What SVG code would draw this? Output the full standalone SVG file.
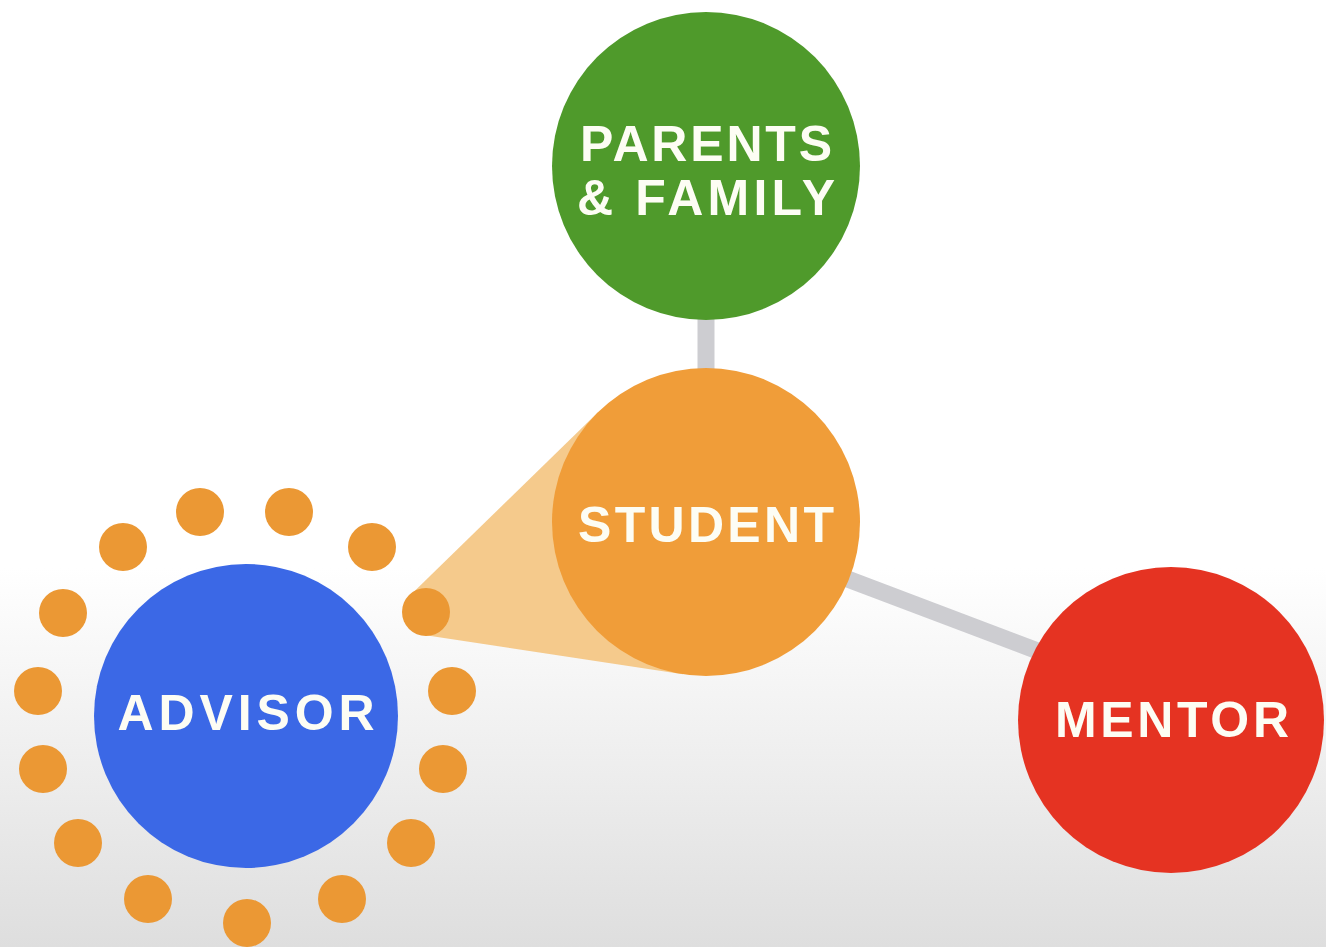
<svg xmlns="http://www.w3.org/2000/svg" width="1326" height="947" viewBox="0 0 1326 947">
  <defs>
    <linearGradient id="bg" x1="0" y1="0" x2="0" y2="1">
      <stop offset="0" stop-color="#ffffff"/>
      <stop offset="0.6" stop-color="#ffffff"/>
      <stop offset="1" stop-color="#dedede"/>
    </linearGradient>
    <style>
      .lbl { font-family: "Liberation Sans", Arial, sans-serif; font-weight: bold; font-size: 50px; fill: #fdfdf4; text-anchor: middle; }
      .conn { stroke: #cdcdd1; stroke-width: 17; fill: none; }
      .dot { fill: #eb9834; }
    </style>
  </defs>
  <rect x="0" y="0" width="1326" height="947" fill="url(#bg)"/>

  <g id="connectors">
    <line class="conn" x1="706" y1="300" x2="706" y2="390"/>
    <line class="conn" x1="800" y1="561" x2="1080" y2="667"/>
  </g>

  <g id="highlight">
    <polygon points="410,595.5 598.5,411.7 706,522 682.9,674.3 422.5,634.7" fill="#f5ca8c"/>
  </g>

  <g id="parents">
    <circle cx="706" cy="166" r="154" fill="#4f9a2b"/>
    <text class="lbl" x="706" y="161" textLength="252" lengthAdjust="spacing">PARENTS</text>
    <text class="lbl" x="706" y="215" textLength="258" lengthAdjust="spacing">&amp; FAMILY</text>
  </g>

  <g id="student">
    <circle cx="706" cy="522" r="154" fill="#f09d39"/>
    <text class="lbl" x="706" y="542" textLength="256" lengthAdjust="spacing">STUDENT</text>
  </g>

  <g id="mentor">
    <circle cx="1171" cy="720" r="153" fill="#e53322"/>
    <text class="lbl" x="1172" y="737" textLength="234" lengthAdjust="spacing">MENTOR</text>
  </g>

  <g id="advisor">
    <circle cx="246" cy="716" r="152" fill="#3b68e6"/>
    <text class="lbl" x="246" y="730" textLength="257" lengthAdjust="spacing">ADVISOR</text>
    <g id="advisor-dots">
      <circle class="dot" cx="200" cy="512" r="24"/>
      <circle class="dot" cx="289" cy="512" r="24"/>
      <circle class="dot" cx="372" cy="547" r="24"/>
      <circle class="dot" cx="426" cy="612" r="24"/>
      <circle class="dot" cx="452" cy="691" r="24"/>
      <circle class="dot" cx="443" cy="769" r="24"/>
      <circle class="dot" cx="411" cy="843" r="24"/>
      <circle class="dot" cx="342" cy="899" r="24"/>
      <circle class="dot" cx="247" cy="923" r="24"/>
      <circle class="dot" cx="148" cy="899" r="24"/>
      <circle class="dot" cx="78" cy="843" r="24"/>
      <circle class="dot" cx="43" cy="769" r="24"/>
      <circle class="dot" cx="38" cy="691" r="24"/>
      <circle class="dot" cx="63" cy="613" r="24"/>
      <circle class="dot" cx="123" cy="547" r="24"/>
    </g>
  </g>
</svg>
